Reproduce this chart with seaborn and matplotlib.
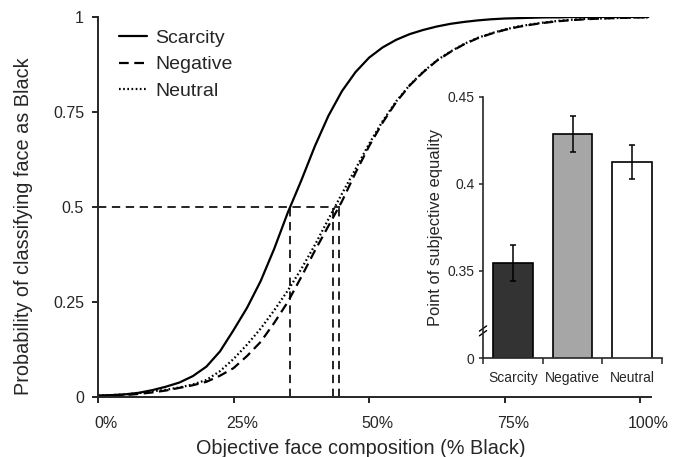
import matplotlib
matplotlib.use("Agg")
import matplotlib.pyplot as plt
import matplotlib.transforms as mtransforms
import seaborn as sns
import pandas as pd

# curve values (x in % Black)
composition = [0, 2.5, 5, 7.5, 10, 12.5, 15, 17.5, 20, 22.5, 25, 27.5, 30, 32.5, 35, 37.5,
               40, 42.5, 45, 47.5, 50, 52.5, 55, 57.5, 60, 62.5, 65, 67.5, 70, 72.5, 75,
               77.5, 80, 82.5, 85, 87.5, 90, 92.5, 95, 97.5, 100, 101.5]
scarcity = [0.004, 0.005, 0.007, 0.011, 0.018, 0.027, 0.038, 0.055, 0.080, 0.120, 0.176,
            0.235, 0.305, 0.390, 0.485, 0.570, 0.660, 0.740, 0.805, 0.855, 0.893, 0.920,
            0.940, 0.955, 0.966, 0.975, 0.982, 0.987, 0.991, 0.994, 0.996, 0.997, 0.998,
            0.999, 0.999, 1.0, 1.0, 1.0, 1.0, 1.0, 1.0, 1.0]
negative = [0.002, 0.003, 0.005, 0.008, 0.012, 0.017, 0.024, 0.031, 0.040, 0.056, 0.076,
            0.108, 0.145, 0.195, 0.250, 0.316, 0.385, 0.450, 0.515, 0.590, 0.660, 0.722,
            0.776, 0.820, 0.855, 0.885, 0.908, 0.928, 0.944, 0.956, 0.966, 0.974, 0.980,
            0.985, 0.989, 0.992, 0.994, 0.996, 0.997, 0.998, 0.999, 0.999]
neutral = [0.004, 0.005, 0.007, 0.010, 0.015, 0.019, 0.025, 0.033, 0.045, 0.068, 0.100,
           0.138, 0.180, 0.228, 0.280, 0.337, 0.400, 0.468, 0.535, 0.600, 0.666, 0.726,
           0.778, 0.821, 0.856, 0.886, 0.909, 0.929, 0.945, 0.957, 0.967, 0.975, 0.981,
           0.986, 0.990, 0.993, 0.995, 0.996, 0.997, 0.998, 0.999, 0.999]
pse_lines = [35.4, 43.4, 44.5]

# inset bar chart
conditions = ["Scarcity", "Negative", "Neutral"]
pse_mean = [0.3546, 0.4289, 0.4129]
pse_err = [0.0105, 0.0103, 0.0098]
bar_colors = ["#333333", "#a6a6a6", "#ffffff"]

x_ticks = [0, 25, 50, 75, 100]
x_ticklabels = ["0%", "25%", "50%", "75%", "100%"]
y_ticks = [0, 0.25, 0.5, 0.75, 1]
y_ticklabels = ["0", "0.25", "0.5", "0.75", "1"]
inset_ticks = [0.30, 0.35, 0.40, 0.45]
inset_ticklabels = ["0", "0.35", "0.4", "0.45"]


def main():
    sns.set_style("ticks")
    plt.rcParams["font.family"] = ["Liberation Sans", "DejaVu Sans"]
    plt.rcParams["lines.scale_dashes"] = False
    fig = plt.figure(figsize=(6.8, 4.57), dpi=100)
    W, H = 680, 457
    ax = fig.add_axes([98 / W, 1 - 397 / H, (651 - 98) / W, (397 - 17) / H])

    df = pd.DataFrame({"x": composition * 3,
                       "p": scarcity + negative + neutral,
                       "cond": ["Scarcity"] * len(composition) + ["Negative"] * len(composition)
                       + ["Neutral"] * len(composition)})
    styles = {"Scarcity": "-", "Negative": (0, (7, 4)), "Neutral": (0, (1.2, 1.8))}
    for c in conditions:
        sns.lineplot(data=df[df.cond == c], x="x", y="p", ax=ax, color="black",
                     linewidth=1.6, linestyle=styles[c], label=c)

    ax.hlines(0.5, 0, max(pse_lines) + 0.2, colors="black", linewidth=1.2,
              linestyles=[(0, (6, 4))])
    ax.vlines(pse_lines, 0, 0.5, colors="black", linewidth=1.2, linestyles=[(0, (6, 4))])

    ax.set_xlim(0, 102)
    ax.set_ylim(0, 1)
    sns.despine(ax=ax)
    for s in ["left", "bottom"]:
        ax.spines[s].set_linewidth(1.4)
    ax.set_xticks(x_ticks)
    ax.set_xticklabels(x_ticklabels)
    ax.set_yticks(y_ticks)
    ax.set_yticklabels(y_ticklabels)
    ax.tick_params(axis="both", direction="out", length=4, width=1.2, labelsize=11.5, color="black")
    ax.tick_params(axis="x", pad=10)
    ax.tick_params(axis="y", pad=6)
    shift = mtransforms.ScaledTranslation(6 / 72, 0, fig.dpi_scale_trans)
    for lab in ax.get_xticklabels():
        lab.set_transform(lab.get_transform() + shift)

    ax.set_xlabel("Objective face composition (% Black)", fontsize=14.3)
    ax.set_ylabel("Probability of classifying face as Black", fontsize=14.3)
    ax.xaxis.set_label_coords(0.476, -0.11)
    ax.xaxis.label.set_va("top")
    ax.yaxis.set_label_coords(-0.118, 0.45)

    ax.legend(loc="upper left", bbox_to_anchor=(0.038, 0.968), frameon=False,
              fontsize=14, handlelength=1.45, handletextpad=0.4, labelspacing=0.46,
              borderpad=0, borderaxespad=0)

    # inset
    ins = fig.add_axes([483 / W, 1 - 358 / H, 179 / W, 261 / H])
    bdf = pd.DataFrame({"cond": conditions, "pse": pse_mean})
    sns.barplot(data=bdf, x="cond", y="pse", hue="cond", palette=bar_colors, legend=False,
                width=0.67, edgecolor="black", linewidth=1.2, ax=ins)
    ins.errorbar(range(len(conditions)), pse_mean, yerr=pse_err, fmt="none", ecolor="black",
                 elinewidth=1.1, capsize=2.5, capthick=1.1)
    ins.set_ylim(0.30, 0.45)
    ins.set_xlim(-0.5, 2.5)
    ins.set_yticks(inset_ticks)
    ins.set_yticklabels(inset_ticklabels)
    ins.set_xticks([-0.5, 0.5, 1.5, 2.5], minor=True)
    ins.tick_params(axis="x", which="major", length=0, pad=17.5, labelsize=10)
    ins.tick_params(axis="x", which="minor", direction="out", length=4, width=1.1)
    ins.tick_params(axis="y", direction="out", length=3, width=1.1, labelsize=10, pad=3)
    for lab in ins.get_xticklabels():
        lab.set_va("baseline")
    ins.set_xlabel("")
    ins.set_ylabel("Point of subjective equality", fontsize=11.9)
    ins.yaxis.set_label_coords(-0.225, 0.5)
    ins.patch.set_alpha(0)
    sns.despine(ax=ins)
    for s in ["left", "bottom"]:
        ins.spines[s].set_linewidth(1.2)
    # break marks on the inset y axis
    for dy in [0.0, 0.018]:
        ins.plot([-0.02, 0.02], [0.085 + dy, 0.105 + dy], transform=ins.transAxes,
                 color="black", linewidth=1.0, clip_on=False)

    fig.savefig("out.png", dpi=100)


if __name__ == "__main__":
    main()
